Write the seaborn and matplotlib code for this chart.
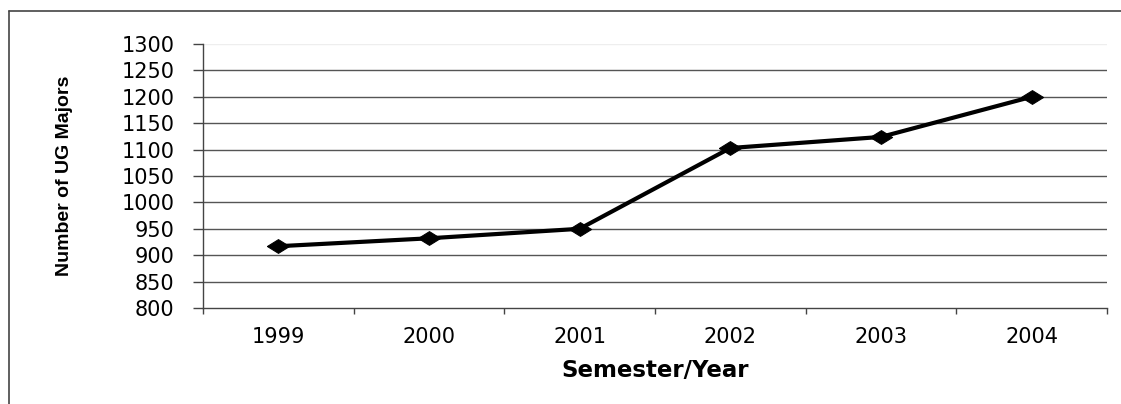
import matplotlib
matplotlib.use("Agg")
import matplotlib.pyplot as plt
import seaborn as sns
import pandas as pd
import numpy as np
from matplotlib.lines import Line2D

years = ["1999", "2000", "2001", "2002", "2003", "2004"]
majors = [917, 932, 950, 1103, 1124, 1200]
y_ticks = [800, 850, 900, 950, 1000, 1050, 1100, 1150, 1200, 1250, 1300]
x_label = "Semester/Year"
y_label = "Number of UG Majors"

df = pd.DataFrame({"year": years, "majors": majors})

sns.set_theme(style="white")
plt.rcParams["font.family"] = ["DejaVu Sans"]

fig = plt.figure(figsize=(11.21, 4.04), dpi=100)
ax = fig.add_axes([203 / 1121, 1 - 308 / 404, (1107 - 203) / 1121, (308 - 44) / 404])

diamond = [(-1, 0), (0, 0.62), (1, 0), (0, -0.62), (-1, 0)]
sns.lineplot(data=df, x="year", y="majors", ax=ax, color="black", linewidth=3.0,
             marker=diamond, markersize=16, markerfacecolor="black",
             markeredgecolor="black", sort=False)

ax.set_xlim(-0.5, len(years) - 0.5)
ax.set_ylim(y_ticks[0], y_ticks[-1])
ax.set_yticks(y_ticks)
ax.set_xticks(range(len(years)))
ax.set_xticklabels(years)
ax.set_xticks(np.arange(-0.5, len(years), 1.0), minor=True)

# gridlines
for v in y_ticks[1:]:
    col = "#eeeeee" if v == y_ticks[-1] else "#555555"
    ax.axhline(v, color=col, linewidth=1.0, zorder=0)

for s in ["top", "right"]:
    ax.spines[s].set_visible(False)
ax.spines["left"].set_color("#444444")
ax.spines["bottom"].set_color("#444444")
ax.spines["left"].set_linewidth(1.0)
ax.spines["bottom"].set_linewidth(1.0)

ax.tick_params(axis="y", which="major", direction="out", length=7.5, width=1,
               color="#444444", pad=13, labelsize=15, labelcolor="black", left=True)
ax.tick_params(axis="x", which="major", length=0, pad=14, labelsize=15, labelcolor="black")
ax.tick_params(axis="x", which="minor", direction="out", length=4, width=1,
               color="#444444", bottom=True)

ax.set_xlabel(x_label, fontsize=16.5, fontweight="bold", color="black")
ax.set_ylabel(y_label, fontsize=14, fontweight="bold", color="black",
              family=["Liberation Sans", "DejaVu Sans"])
ax.xaxis.set_label_coords(0.5, -0.235)
ax.yaxis.set_label_coords(-0.1527, 0.5)
ax.xaxis.label.set_va("center")
ax.yaxis.label.set_va("center")

# outer border (chart area frame): left and top edges only visible
fx = 9 / 1121
fy = 1 - 11 / 404
fig.add_artist(Line2D([fx, fx], [0, fy], transform=fig.transFigure,
                      color="#444444", linewidth=1.2))
fig.add_artist(Line2D([fx, 1], [fy, fy], transform=fig.transFigure,
                      color="#444444", linewidth=1.2))

fig.savefig("out.png", dpi=100)
